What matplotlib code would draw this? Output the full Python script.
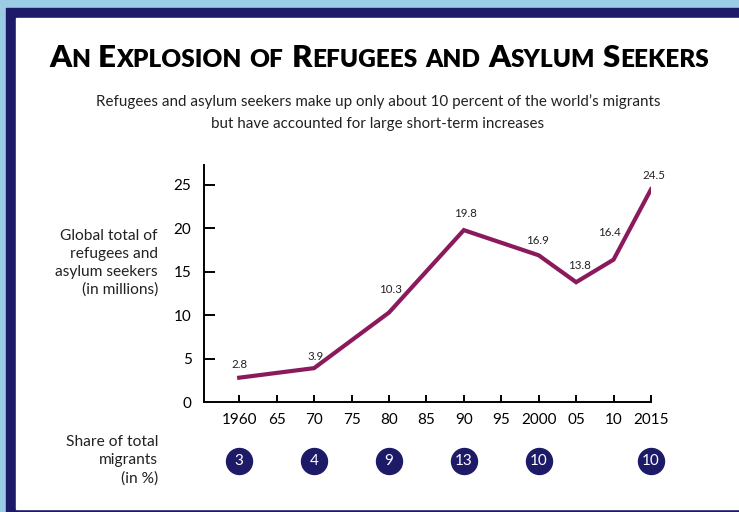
import matplotlib
matplotlib.use("Agg")
import matplotlib.pyplot as plt
import matplotlib.patches as mpatches
import matplotlib.transforms as mtransforms

# Data
years = [1960, 1970, 1980, 1990, 2000, 2005, 2010, 2015]
totals = [2.8, 3.9, 10.3, 19.8, 16.9, 13.8, 16.4, 24.5]
tick_years = [1960, 1965, 1970, 1975, 1980, 1985, 1990, 1995, 2000, 2005, 2010, 2015]
tick_labels = ["1960", "65", "70", "75", "80", "85", "90", "95", "2000", "05", "10", "2015"]
share_years = [1960, 1970, 1980, 1990, 2000, 2015]
share_pct = [3, 4, 9, 13, 10, 10]

# label offsets in pixels (dx, dy)
label_offsets = [(0, 13), (2, 12), (2, 23), (2, 17), (-1, 15), (3, 17), (-4, 27), (3, 14)]

NAVY = "#1d1a68"
LIGHT = "#9ccbe6"
LINE = "#8b1a5c"
FONT = "Lato"

plt.rcParams["font.family"] = [FONT, "DejaVu Sans"]

W, H = 739, 512
fig = plt.figure(figsize=(W / 100, H / 100), dpi=100)
fig.patch.set_facecolor(LIGHT)

def px_rect(x0, y0, x1, y1, color):
    # rectangle given in pixel coords from top-left
    fig.patches.append(mpatches.Rectangle((x0 / W, 1 - y1 / H), (x1 - x0) / W, (y1 - y0) / H,
                                          transform=fig.transFigure, color=color, zorder=-5))

px_rect(6, 8, W + 5, H + 5, NAVY)
px_rect(16, 18, W + 5, 509, "white")

ax = fig.add_axes([204 / W, 1 - 402 / H, (651 - 204) / W, (402 - 165) / H])
ax.set_zorder(2)
ax.set_facecolor("none")
ax.plot(years, totals, color=LINE, lw=3.0, solid_joinstyle="miter", zorder=3)
for x, y, v, (dx, dy) in zip(years, totals, totals, label_offsets):
    ax.annotate(f"{v}", (x, y), xytext=(dx, dy), textcoords="offset pixels",
                ha="center", va="center", fontsize=8.3, color="#222222")

ax.set_xlim(1955.3, 2015)
ax.set_ylim(0, 27.3)
ax.set_xticks(tick_years)
ax.set_xticklabels(tick_labels)
ax.set_yticks([0, 5, 10, 15, 20, 25])
for s in ["top", "right"]:
    ax.spines[s].set_visible(False)
for s in ["left", "bottom"]:
    ax.spines[s].set_linewidth(1.4)
ax.tick_params(axis="y", direction="in", length=8, width=1.4, pad=9, labelsize=11)
ax.tick_params(axis="x", direction="in", length=5, width=1.4, pad=8, labelsize=11)
ax.yaxis.set_ticks_position("left")
ax.xaxis.set_ticks_position("bottom")
# y-axis tick for 0 not drawn in original
ax.yaxis.get_major_ticks()[0].tick1line.set_visible(False)

# share circles below the axis
trans = mtransforms.blended_transform_factory(ax.transData, fig.transFigure)
cy = 1 - 461 / H
ax.scatter(share_years, [cy] * len(share_years), s=350, color=NAVY, transform=trans,
           clip_on=False, zorder=4)
for x, v in zip(share_years, share_pct):
    ax.text(x, cy, str(v), transform=trans, ha="center", va="center", color="white",
            fontsize=11, zorder=5, clip_on=False)

# side labels
fig.text(158 / W, 1 - 263 / H, "Global total of\nrefugees and\nasylum seekers\n(in millions)",
         ha="right", va="center", fontsize=11.2, linespacing=1.33, color="#222222")
fig.text(158 / W, 1 - 460 / H, "Share of total\nmigrants\n(in %)",
         ha="right", va="center", fontsize=11.2, linespacing=1.38, color="#222222")

# subtitle
fig.text(378 / W, 1 - 112.5 / H,
         "Refugees and asylum seekers make up only about 10 percent of the world\u2019s migrants\n"
         "but have accounted for large short-term increases",
         ha="center", va="center", fontsize=10.9, linespacing=1.75, color="#222222")

# title in small caps
def small_caps(text, xc, ybase, big, small, gap):
    r = fig.canvas.get_renderer()
    pieces = []
    for i, word in enumerate(text.split()):
        if word.islower():
            pieces.append((word.upper(), small, i > 0))
        else:
            pieces.append((word[0], big, i > 0))
            pieces.append((word[1:].upper(), small, False))
    objs = []
    total = 0
    for s, size, sp in pieces:
        t = fig.text(0, ybase, s, fontsize=size, fontweight="heavy", va="baseline", ha="left",
                     color="black")
        w = t.get_window_extent(r).width
        if sp:
            total += gap
        objs.append((t, total))
        total += w
    x0 = xc - total / 2
    for t, off in objs:
        t.set_x((x0 + off) / W)

small_caps("An Explosion of Refugees and Asylum Seekers", 379, 1 - 67 / H, 22.5, 17.6, 8)

fig.savefig("out.png", dpi=100)
